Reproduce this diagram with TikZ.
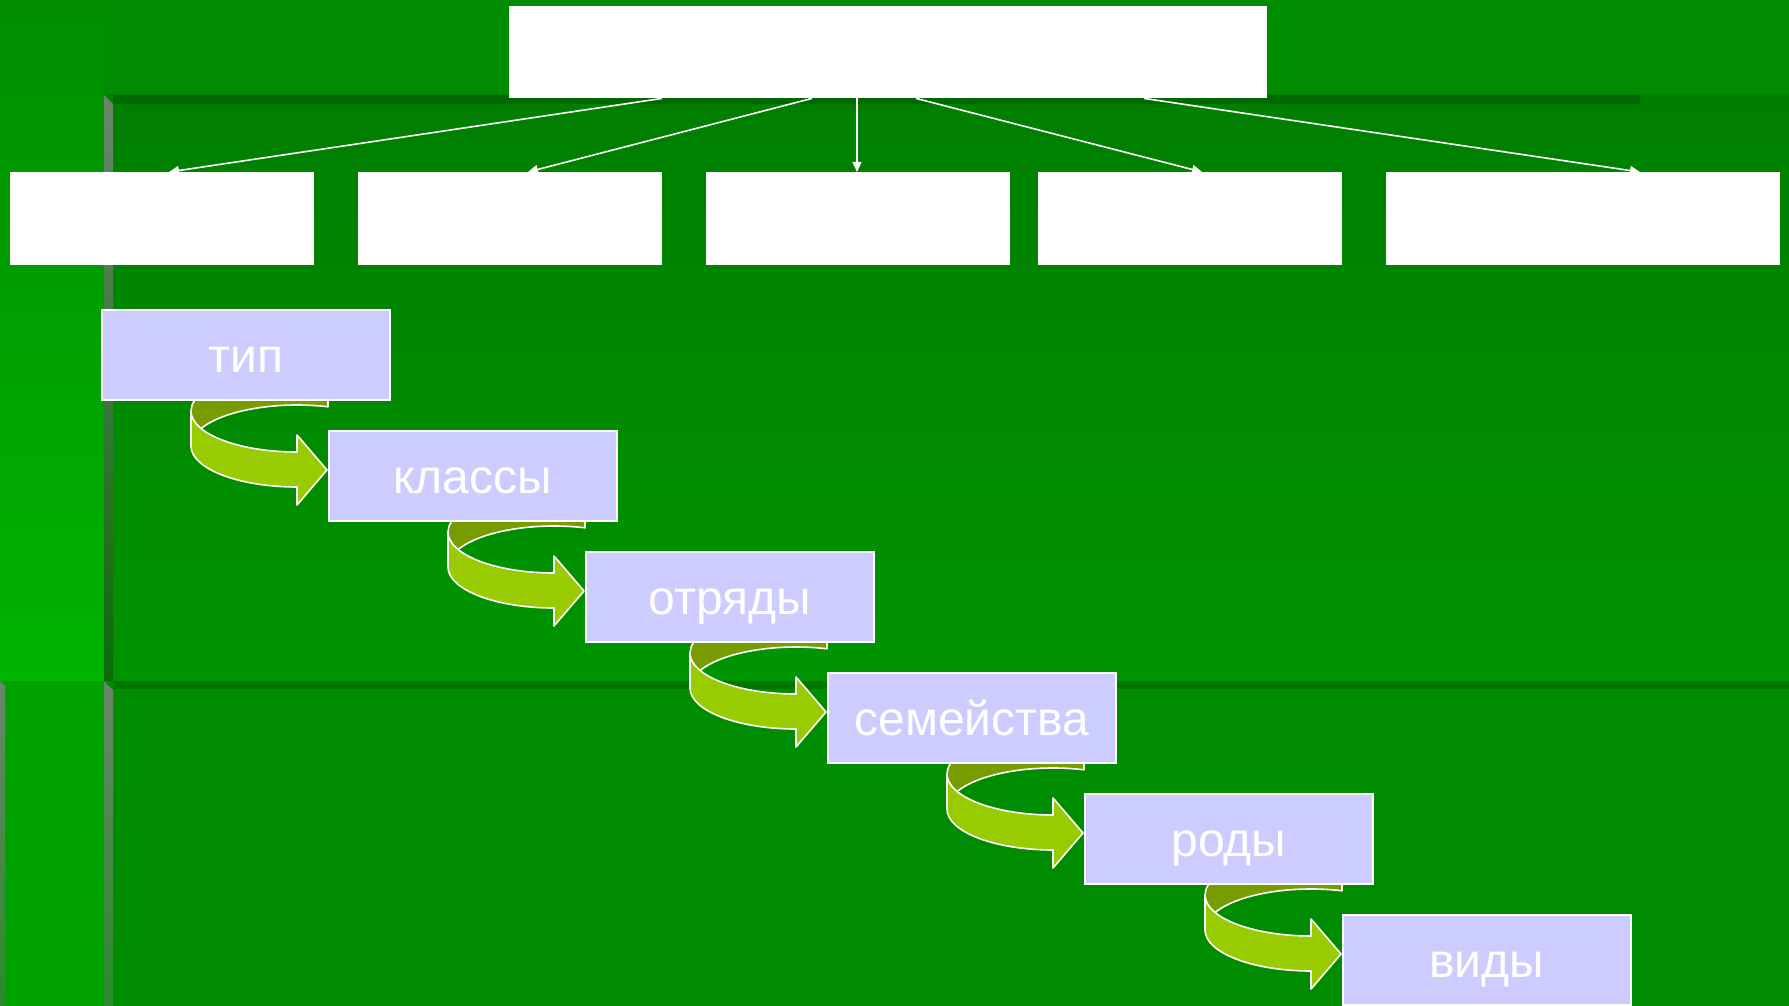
\documentclass[tikz,border=0pt]{standalone}
\usepackage{fontspec}
\setmainfont{Liberation Sans}
\usetikzlibrary{arrows.meta,calc}

\definecolor{bgmain}{HTML}{008C00}
\definecolor{leftTop}{HTML}{008E00}
\definecolor{leftBot}{HTML}{00B400}
\definecolor{leftLow}{HTML}{00A200}
\definecolor{panelTop}{HTML}{007E00}
\definecolor{panelBot}{HTML}{009400}
\definecolor{stripTop}{HTML}{006800}
\definecolor{stripMid}{HTML}{007800}
\definecolor{bevelTop}{HTML}{6A866A}
\definecolor{bevelBot}{HTML}{0A6A0A}
\definecolor{bevelLowBot}{HTML}{2A8A2A}
\definecolor{lavender}{HTML}{CCCCFF}
\definecolor{bandBack}{HTML}{789C00}
\definecolor{bandFront}{HTML}{99CC00}

\pgfdeclarelayer{panels}
\pgfdeclarelayer{bands}
\pgfsetlayers{panels,bands,main}

\tikzset{
  whitebox/.style={draw=none, fill=white, minimum width=304pt, minimum height=93pt,
    inner sep=0pt, anchor=north west},
  rankbox/.style={draw=white, line width=1.6pt, fill=lavender, minimum width=288pt,
    minimum height=90pt, inner sep=0pt, anchor=north west, text=white,
    text height=36pt, text depth=0pt, font=\fontsize{48}{56}\selectfont},
  link/.style={draw=white, line width=1.6pt, -{Triangle[length=10pt,width=9pt]}},
  bandline/.style={draw=white, line width=1.6pt, line join=round},
  ell/.style={x radius=106, y radius=41},
}

% curved ribbon arrow ending at the left side of the given box
\newcommand\bendarrow[1]{%
  \fill[bandBack] ($(#1.north west)+(-137,16)$)
    arc[start angle=180, end angle=287, ell] -- ++(0,-35)
    arc[start angle=287, end angle=180, ell] -- cycle;
  \fill[bandFront] ($(#1.north west)+(-137,-19)$)
    arc[start angle=180, end angle=90, ell] -- ++(0,-17) -- ++(30,35)
    -- ++(-30,35) -- ++(0,-18)
    arc[start angle=90, end angle=180, ell] -- cycle;
  \draw[bandline] ($(#1.north west)+(-137,-19)$)
    arc[start angle=180, end angle=90, ell] -- ++(0,-17) -- ++(30,35)
    -- ++(-30,35) -- ++(0,-18)
    arc[start angle=90, end angle=180, ell] -- ++(0,-35)
    arc[start angle=180, end angle=287, ell] -- ++(0,35)
    arc[start angle=287, end angle=205.27, ell];
}

\begin{document}
\begin{tikzpicture}[x=1pt,y=-1pt]
\useasboundingbox (0,0) rectangle (1789,1006);

% hierarchy boxes
\node[whitebox, minimum width=758pt, minimum height=92pt] (top) at (509,6) {};
\node[whitebox] (c1) at (10,172) {};
\node[whitebox] (c2) at (358,172) {};
\node[whitebox] (c3) at (706,172) {};
\node[whitebox] (c4) at (1038,172) {};
\node[whitebox, minimum width=394pt] (c5) at (1386,172) {};

\draw[link] ([xshift=153pt]top.south west) -- ([xshift=159pt]c1.north west);
\draw[link] ([xshift=303pt]top.south west) -- ([xshift=170pt]c2.north west);
\draw[link] ([xshift=348pt]top.south west) -- ([xshift=151pt]c3.north west);
\draw[link] ([xshift=407pt]top.south west) -- ([xshift=164pt]c4.north west);
\draw[link] ([xshift=635pt]top.south west) -- ([xshift=254pt]c5.north west);

% ranks
\node[rankbox] (r1) at (101,309) {тип};
\node[rankbox] (r2) at (328,430) {классы};
\node[rankbox] (r3) at (585,551) {отряды};
\node[rankbox] (r4) at (827,672) {семейства};
\node[rankbox] (r5) at (1084,793) {роды};
\node[rankbox] (r6) at (1342,914) {виды};

\begin{pgfonlayer}{bands}
  \bendarrow{r2}
  \bendarrow{r3}
  \bendarrow{r4}
  \bendarrow{r5}
  \bendarrow{r6}
\end{pgfonlayer}

% slide background panels
\begin{pgfonlayer}{panels}
  \fill[bgmain] (0,0) rectangle (1789,1006);
  \shade[top color=leftTop, bottom color=leftBot] (0,0) rectangle (104,681);
  \fill[leftLow] (0,681) rectangle (104,1006);
  \shade[top color=bevelTop, bottom color=bevelLowBot] (0,681) -- (5,686) -- (5,1006) -- (0,1006) -- cycle;
  \shade[top color=panelTop, bottom color=panelBot] (104,95) rectangle (1789,681);
  \fill[stripTop] (113,95) rectangle (1640,104);
  \shade[top color=bevelTop, bottom color=bevelBot] (104,95) -- (113,104) -- (113,681) -- (104,681) -- cycle;
  \fill[bgmain] (104,681) rectangle (1789,1006);
  \fill[stripMid] (113,681) rectangle (1789,689);
  \shade[top color=bevelTop, bottom color=bevelLowBot] (104,681) -- (113,690) -- (113,1006) -- (104,1006) -- cycle;
\end{pgfonlayer}
\end{tikzpicture}
\end{document}
